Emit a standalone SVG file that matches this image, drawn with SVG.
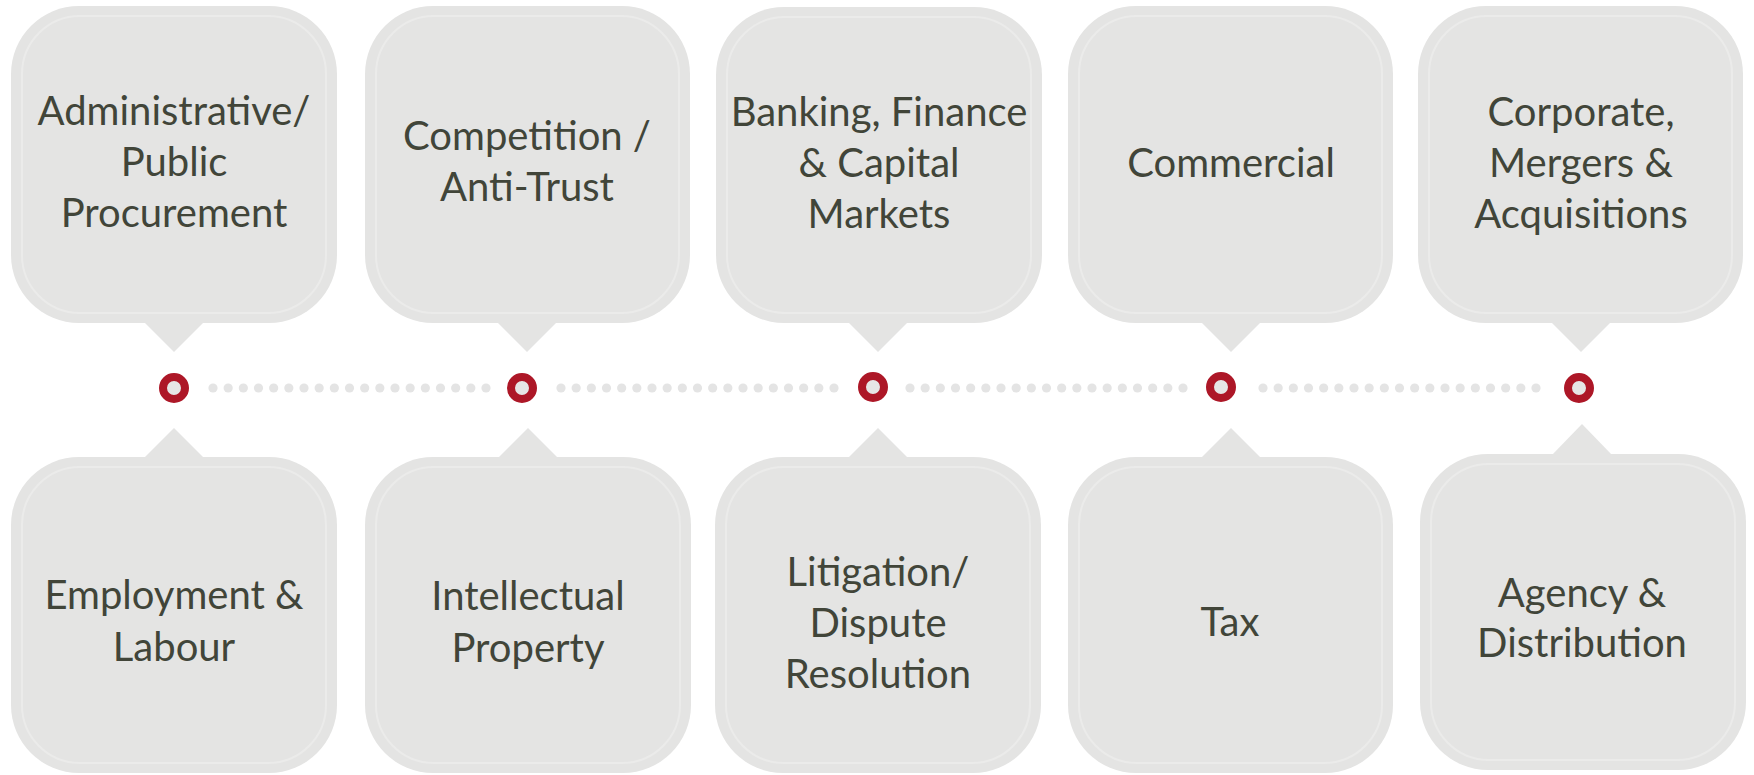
<svg xmlns="http://www.w3.org/2000/svg" width="1754" height="775" viewBox="0 0 1754 775">
<style>
.box{fill:#e4e4e3}
.inner{fill:none;stroke:#ebebea;stroke-width:2}
.lbl{font-family:Lato,"Open Sans",sans-serif;font-size:40px;fill:#414539;text-anchor:middle}
.dot{fill:#e4e4e4}
.ring{fill:#e6e6e6;stroke:#ad1727;stroke-width:8}
</style>
<rect width="1754" height="775" fill="#ffffff"/>
<defs>
<g id="dots19">
<circle class="dot" cx="0" cy="0" r="4.6"/><circle class="dot" cx="15.17" cy="0" r="4.6"/><circle class="dot" cx="30.33" cy="0" r="4.6"/><circle class="dot" cx="45.5" cy="0" r="4.6"/><circle class="dot" cx="60.67" cy="0" r="4.6"/><circle class="dot" cx="75.83" cy="0" r="4.6"/><circle class="dot" cx="91" cy="0" r="4.6"/><circle class="dot" cx="106.17" cy="0" r="4.6"/><circle class="dot" cx="121.33" cy="0" r="4.6"/><circle class="dot" cx="136.5" cy="0" r="4.6"/><circle class="dot" cx="151.67" cy="0" r="4.6"/><circle class="dot" cx="166.83" cy="0" r="4.6"/><circle class="dot" cx="182" cy="0" r="4.6"/><circle class="dot" cx="197.17" cy="0" r="4.6"/><circle class="dot" cx="212.33" cy="0" r="4.6"/><circle class="dot" cx="227.5" cy="0" r="4.6"/><circle class="dot" cx="242.67" cy="0" r="4.6"/><circle class="dot" cx="257.83" cy="0" r="4.6"/><circle class="dot" cx="273" cy="0" r="4.6"/>
</g>
</defs>
<g id="connectors">
<use href="#dots19" x="213" y="388"/>
<use href="#dots19" x="561" y="388"/>
<use href="#dots19" x="910" y="388"/>
<use href="#dots19" x="1263" y="388"/>
</g>
<g id="markers">
<circle class="ring" cx="174" cy="388" r="11"/>
<circle class="ring" cx="522" cy="388" r="11"/>
<circle class="ring" cx="873" cy="387" r="11"/>
<circle class="ring" cx="1221" cy="387" r="11"/>
<circle class="ring" cx="1579" cy="388" r="11"/>
</g>
<g id="node-administrative">
<rect class="box" x="11" y="6" width="326" height="317" rx="68"/>
<polygon class="box" points="144,322 204,322 174,352"/>
<rect class="inner" x="22" y="16" width="304" height="297" rx="58"/>
<text class="lbl" x="174" y="125">Administrative/</text>
<text class="lbl" x="174" y="176">Public</text>
<text class="lbl" x="174" y="227">Procurement</text>
</g>
<g id="node-competition">
<rect class="box" x="365" y="6" width="325" height="317" rx="68"/>
<polygon class="box" points="497,322 557,322 527,352"/>
<rect class="inner" x="376" y="16" width="303" height="297" rx="58"/>
<text class="lbl" x="527" y="150">Competition /</text>
<text class="lbl" x="527" y="201">Anti-Trust</text>
</g>
<g id="node-banking">
<rect class="box" x="716" y="7" width="326" height="316" rx="68"/>
<polygon class="box" points="848,322 908,322 878,352"/>
<rect class="inner" x="727" y="17" width="304" height="296" rx="58"/>
<text class="lbl" x="879" y="126">Banking, Finance</text>
<text class="lbl" x="879" y="177">&amp; Capital</text>
<text class="lbl" x="879" y="228">Markets</text>
</g>
<g id="node-commercial">
<rect class="box" x="1068" y="6" width="325" height="317" rx="68"/>
<polygon class="box" points="1201,322 1261,322 1231,352"/>
<rect class="inner" x="1079" y="16" width="303" height="297" rx="58"/>
<text class="lbl" x="1231" y="177">Commercial</text>
</g>
<g id="node-corporate">
<rect class="box" x="1418" y="6" width="325" height="317" rx="68"/>
<polygon class="box" points="1551,322 1611,322 1581,352"/>
<rect class="inner" x="1429" y="16" width="303" height="297" rx="58"/>
<text class="lbl" x="1581" y="126">Corporate,</text>
<text class="lbl" x="1581" y="177">Mergers &amp;</text>
<text class="lbl" x="1581" y="228">Acquisitions</text>
</g>
<g id="node-employment">
<rect class="box" x="11" y="457" width="326" height="316" rx="68"/>
<polygon class="box" points="144,458 204,458 174,428"/>
<rect class="inner" x="22" y="467" width="304" height="296" rx="58"/>
<text class="lbl" x="174" y="609">Employment &amp;</text>
<text class="lbl" x="174" y="661">Labour</text>
</g>
<g id="node-ip">
<rect class="box" x="365" y="457" width="326" height="316" rx="68"/>
<polygon class="box" points="498,458 558,458 528,428"/>
<rect class="inner" x="376" y="467" width="304" height="296" rx="58"/>
<text class="lbl" x="528" y="610">Intellectual</text>
<text class="lbl" x="528" y="662">Property</text>
</g>
<g id="node-litigation">
<rect class="box" x="715" y="457" width="326" height="316" rx="68"/>
<polygon class="box" points="848,458 908,458 878,428"/>
<rect class="inner" x="726" y="467" width="304" height="296" rx="58"/>
<text class="lbl" x="878" y="586">Litigation/</text>
<text class="lbl" x="878" y="637">Dispute</text>
<text class="lbl" x="878" y="688">Resolution</text>
</g>
<g id="node-tax">
<rect class="box" x="1068" y="457" width="325" height="316" rx="68"/>
<polygon class="box" points="1201,458 1261,458 1231,428"/>
<rect class="inner" x="1079" y="467" width="303" height="296" rx="58"/>
<text class="lbl" x="1230" y="636">Tax</text>
</g>
<g id="node-agency">
<rect class="box" x="1420" y="454" width="326" height="316" rx="68"/>
<polygon class="box" points="1552,455 1612,455 1582,424"/>
<rect class="inner" x="1431" y="464" width="304" height="296" rx="58"/>
<text class="lbl" x="1582" y="607">Agency &amp;</text>
<text class="lbl" x="1582" y="657">Distribution</text>
</g>
</svg>
